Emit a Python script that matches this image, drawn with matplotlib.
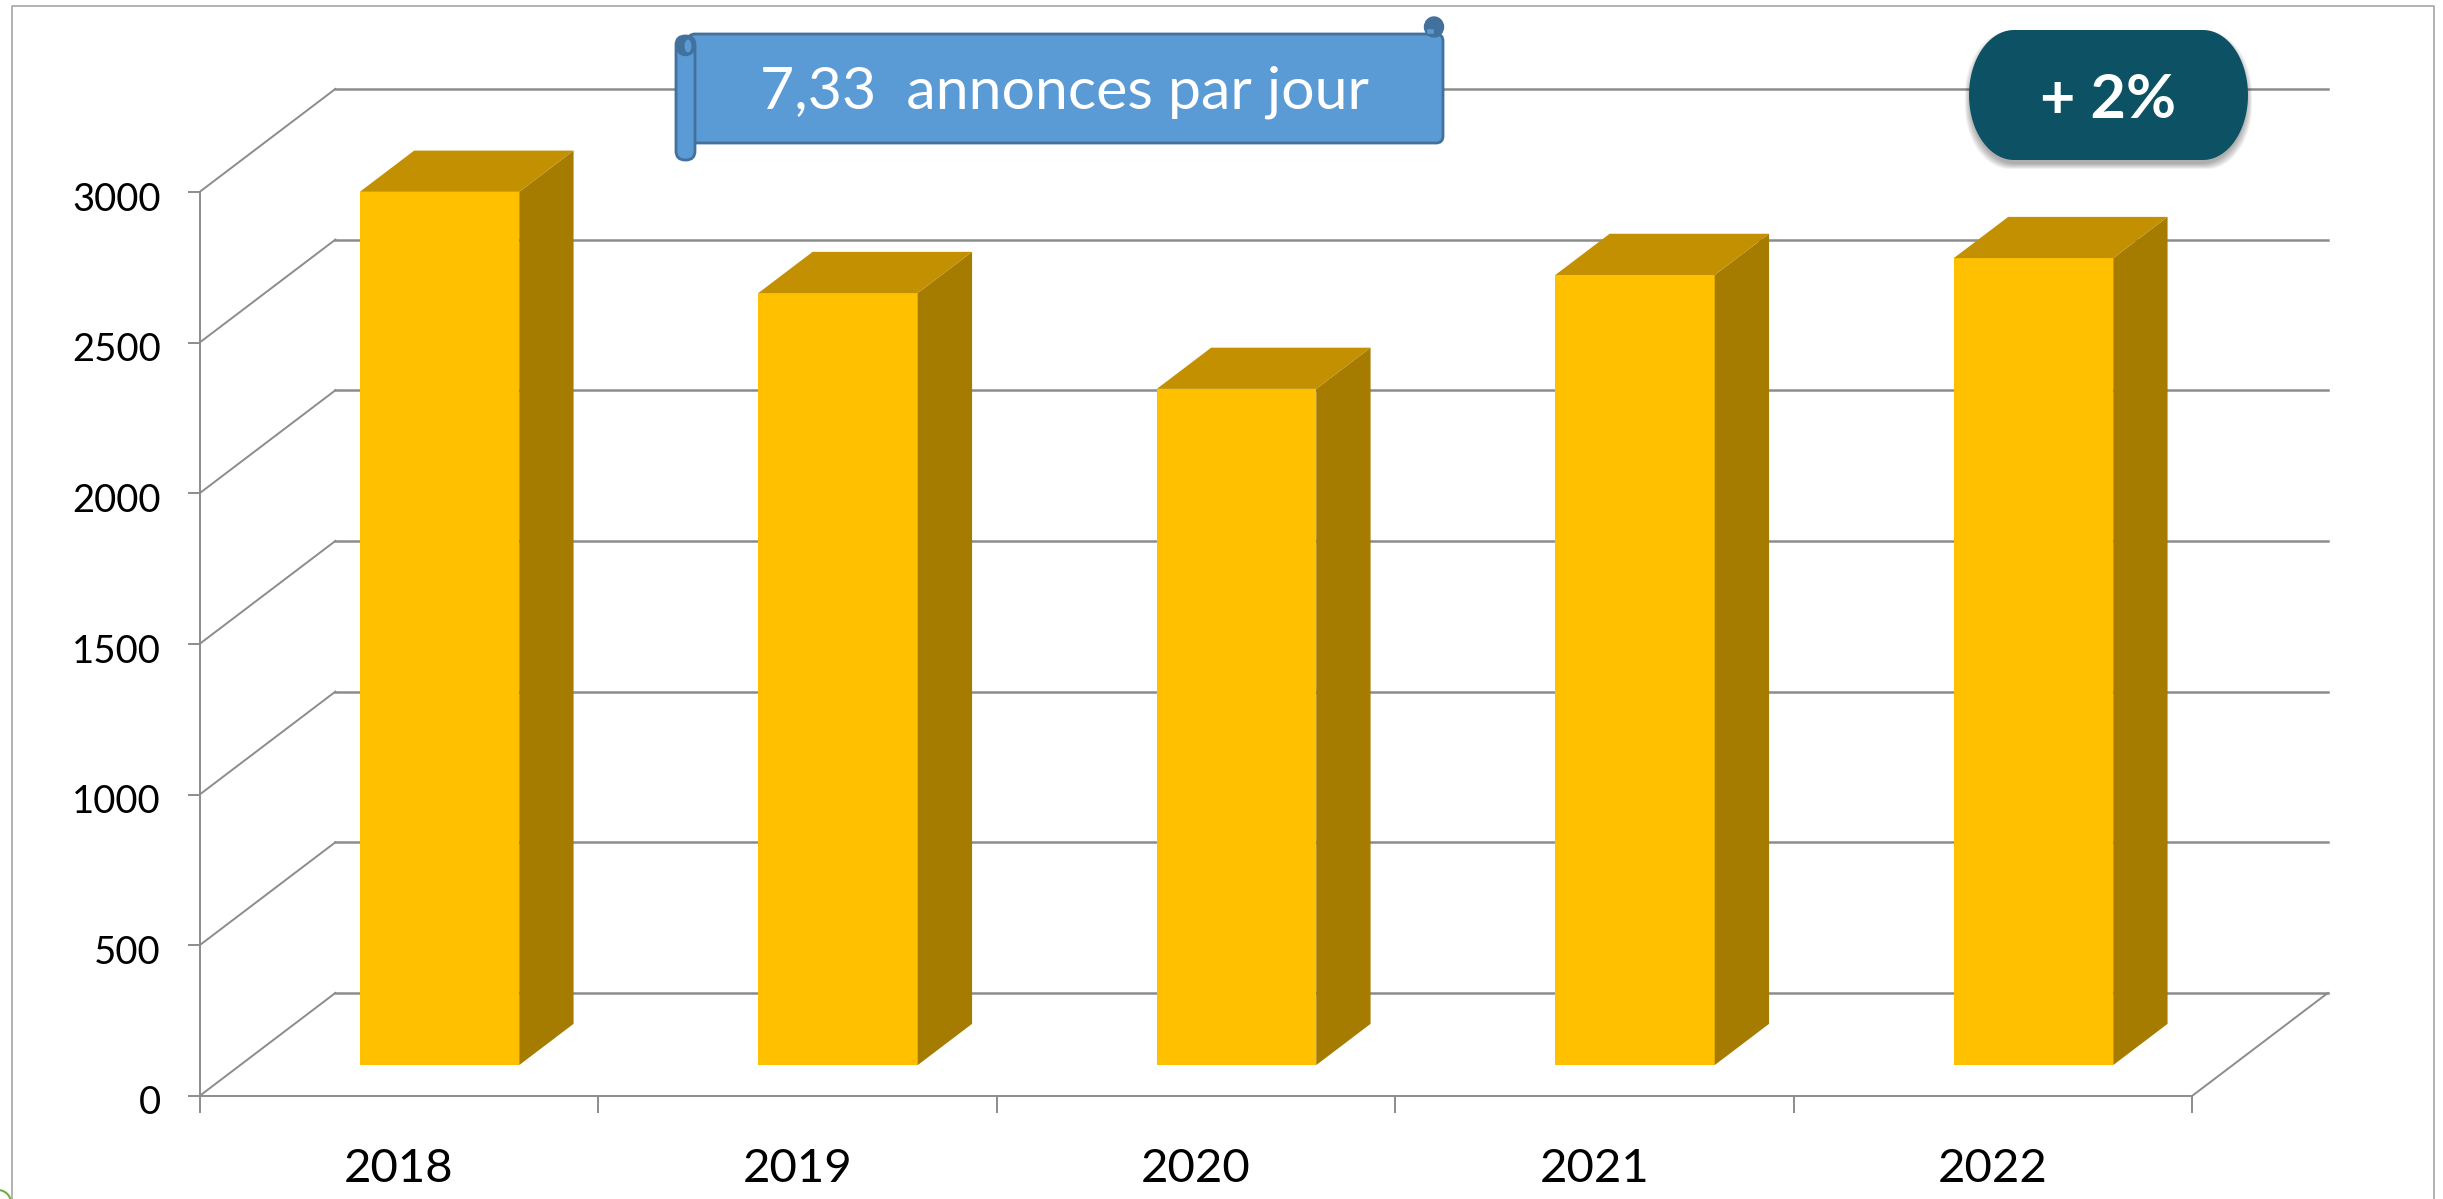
import matplotlib
matplotlib.use('Agg')
import matplotlib.pyplot as plt
import numpy as np
from matplotlib.patches import FancyBboxPatch, Rectangle, Ellipse, Polygon
from matplotlib.transforms import ScaledTranslation

plt.rcParams['font.family'] = ['Lato', 'DejaVu Sans']

years = ['2018', '2019', '2020', '2021', '2022']
values = [2898, 2562, 2244, 2622, 2678]
yticks = [0, 500, 1000, 1500, 2000, 2500, 3000]

W, H = 2443, 1199
GRID = '#8c8c8c'

# oblique "3d" look: one unit of depth moves this far in data units
depth_x = 0.341
depth_y = 342
bar_w = 0.40
bar_d0 = 0.30
bar_d1 = 0.70


def pill_points(x0, y0, x1, y1, rx, ry):
    # rounded box with elliptical corners
    t = np.linspace(0, np.pi / 2, 30)
    pts = []
    for cx, cy, a in [(x1 - rx, y0 + ry, -np.pi / 2), (x1 - rx, y1 - ry, 0),
                      (x0 + rx, y1 - ry, np.pi / 2), (x0 + rx, y0 + ry, np.pi)]:
        pts += list(zip(cx + rx * np.cos(t + a), cy + ry * np.sin(t + a)))
    return pts


fig = plt.figure(figsize=(W / 100, H / 100), dpi=100, facecolor='white')
left, right, bottom, top = 199.5, 2192, 1096, 192
ax = fig.add_axes([left / W, 1 - bottom / H, (right - left) / W, (bottom - top) / H])
ax.set_xlim(0, 5)
ax.set_ylim(0, 3000)
ax.patch.set_visible(False)
for s in ['top', 'right']:
    ax.spines[s].set_visible(False)
for s in ['left', 'bottom']:
    ax.spines[s].set_color(GRID)
    ax.spines[s].set_linewidth(1.4)

# walls and floor
for v in yticks:
    ax.plot([0, depth_x], [v, v + depth_y], color=GRID, lw=1.4, clip_on=False, zorder=1)
    ax.plot([depth_x, 5 + depth_x], [v + depth_y, v + depth_y], color=GRID, lw=1.8, clip_on=False, zorder=1)
ax.plot([5, 5 + depth_x], [0, depth_y], color=GRID, lw=1.4, clip_on=False, zorder=1)

# bars
for i, v in enumerate(values):
    x0 = i + 0.5 - bar_w / 2 + bar_d0 * depth_x
    x1 = x0 + bar_w
    y0 = bar_d0 * depth_y
    y1 = y0 + v
    dx = (bar_d1 - bar_d0) * depth_x
    dy = (bar_d1 - bar_d0) * depth_y
    ax.bar(x0, v, width=bar_w, bottom=y0, align='edge', color='#ffc000', clip_on=False, zorder=3)
    ax.fill([x1, x1 + dx, x1 + dx, x1], [y0, y0 + dy, y1 + dy, y1], color='#a67c00', lw=0, clip_on=False, zorder=3)
    ax.fill([x0, x0 + dx, x1 + dx, x1], [y1, y1 + dy, y1 + dy, y1], color='#c29000', lw=0, clip_on=False, zorder=3)

ax.set_xticks(range(6))
ax.set_xticklabels([''] * 6)
ax.set_yticks(yticks)
ax.tick_params(axis='y', length=9, width=1.4, color=GRID, labelsize=27.5, pad=19, labelcolor='black')
ax.tick_params(axis='x', length=12, width=1.4, color=GRID)
# y labels sit a little below their ticks
nudge = ScaledTranslation(0, -4 / 100, fig.dpi_scale_trans)
for lab in ax.get_yticklabels():
    lab.set_transform(lab.get_transform() + nudge)
for i, y in enumerate(years):
    ax.text(i + 0.5, -243, y, ha='center', va='center', fontsize=34, color='black', clip_on=False)

# overlay in pixels: frame, banner, pill
ov = fig.add_axes([0, 0, 1, 1], zorder=5)
ov.set_xlim(0, W)
ov.set_ylim(H, 0)
ov.axis('off')
ov.plot([12, 12, 2434, 2434], [H, 6, 6, H], color='#a6a6a6', lw=1.2)
ov.add_patch(Ellipse((-2, 1203), 26, 26, fill=False, ec='#70ad47', lw=1.5))

BLUE = '#5b9bd5'
DARK = '#41719c'
# banner body
ov.add_patch(FancyBboxPatch((688, 34), 755, 109, boxstyle='round,pad=0,rounding_size=7',
                            fc=BLUE, ec=DARK, lw=2))
# left roll
ov.add_patch(FancyBboxPatch((676, 36), 19, 124, boxstyle='round,pad=0,rounding_size=9',
                            fc=BLUE, ec=DARK, lw=2))
ov.add_patch(Ellipse((685.5, 46), 19, 19, fc=DARK, ec=DARK, lw=1))
ov.add_patch(Ellipse((688, 46), 9, 15, fc=BLUE, ec=DARK, lw=1.5))
# right roll
ov.add_patch(Ellipse((1434, 27), 19, 20, fc=DARK, ec=DARK, lw=1))
ov.add_patch(Rectangle((1426, 28), 8, 6, fc=BLUE, ec=DARK, lw=1))
ov.text(1064, 92, '7,33  annonces par jour', ha='center', va='center', fontsize=42.5, color='white')

# pill with soft shadow
for k in range(6):
    ov.add_patch(Polygon(pill_points(1970 - k, 36 - k, 2247 + k, 164 + k, 45, 64),
                         fc='black', ec='none', alpha=0.06))
ov.add_patch(Polygon(pill_points(1969, 30, 2248, 160, 45, 65), fc='#0d5164', ec='none'))
ov.text(2108, 100, '+ 2%', ha='center', va='center', fontsize=44, fontweight='bold', color='white')

fig.savefig('out.png', dpi=100)
